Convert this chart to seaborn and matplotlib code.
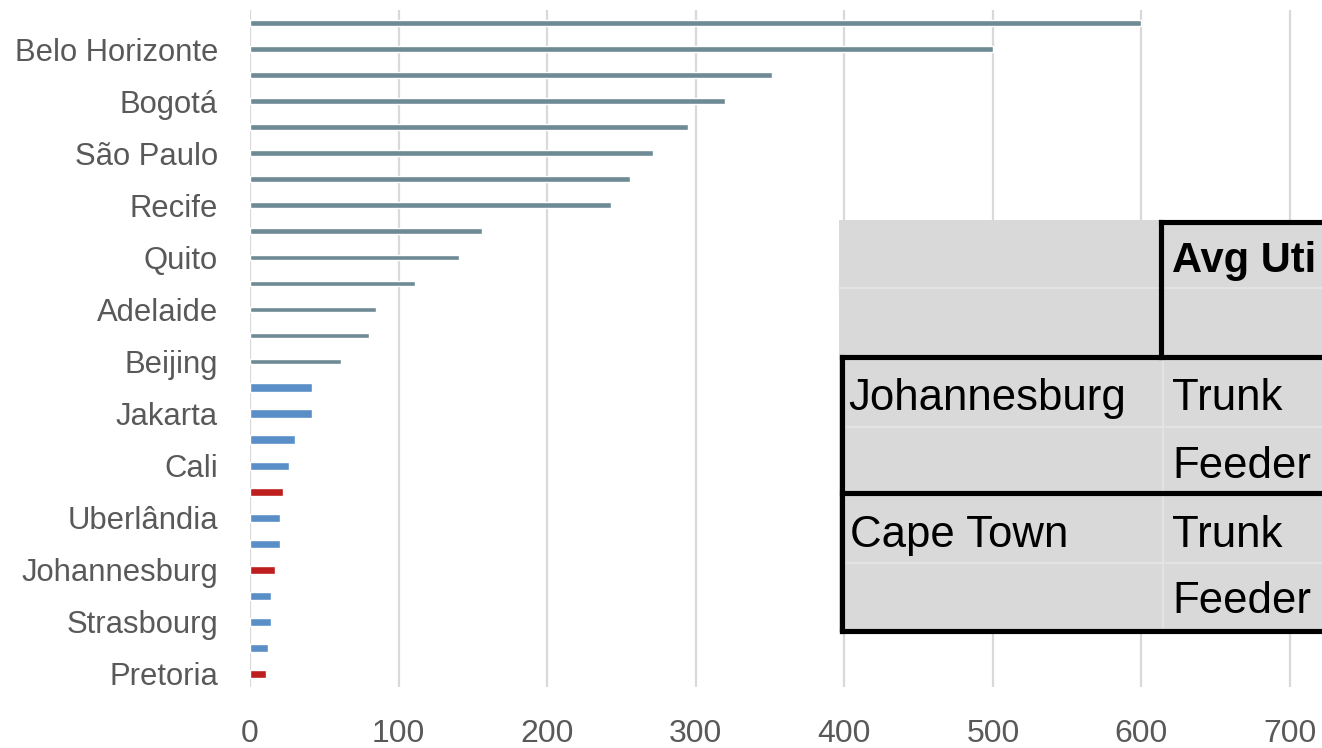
import numpy as np
import pandas as pd
import matplotlib
matplotlib.use("Agg")
import matplotlib.pyplot as plt
from matplotlib import font_manager
import seaborn as sns

# ---------------- data (top to bottom) ----------------
slots = [
    "(unlabelled 1)", "Belo Horizonte", "(unlabelled 2)", "Bogotá",
    "(unlabelled 3)", "São Paulo", "(unlabelled 4)", "Recife",
    "(unlabelled 5)", "Quito", "(unlabelled 6)", "Adelaide",
    "(unlabelled 7)", "Beijing", "(unlabelled 8)", "Jakarta",
    "(unlabelled 9)", "Cali", "(unlabelled 10)", "Uberlândia",
    "(unlabelled 11)", "Johannesburg", "(unlabelled 12)", "Strasbourg",
    "(unlabelled 13)", "Pretoria",
]
tick_labels = [
    "", "Belo Horizonte", "", "Bogotá", "", "São Paulo", "", "Recife",
    "", "Quito", "", "Adelaide", "", "Beijing", "", "Jakarta",
    "", "Cali", "", "Uberlândia", "", "Johannesburg", "", "Strasbourg",
    "", "Pretoria",
]
values = [600, 500, 351, 320, 295, 271, 256, 243, 156, 141, 111, 85, 80, 61,
          42, 42, 30, 26, 22, 20, 20, 16.5, 14, 14, 12, 11]
groups = ["thin"] * 14 + ["thick"] * 12
highlight = [False] * 18 + [True, False, False, True, False, False, False, True]
x_ticks = [0, 100, 200, 300, 400, 500, 600, 700]

# table overlay text
table_header = "Avg Uti"
table_cities = ["Johannesburg", "Cape Town"]
table_modes = ["Trunk", "Feeder", "Trunk", "Feeder"]

# ---------------- style ----------------
sns.set_style("white")
names = {f.name for f in font_manager.fontManager.ttflist}
narrow = "Liberation Sans Narrow" if "Liberation Sans Narrow" in names else "Liberation Sans"
plt.rcParams["font.family"] = ["Liberation Sans", "DejaVu Sans"]

col_thin = "#6e8b95"
col_blue = "#5a8ec6"
col_red = "#be1e1e"
colors = []
for g, h in zip(groups, highlight):
    if h:
        colors.append(col_red)
    elif g == "thin":
        colors.append(col_thin)
    else:
        colors.append(col_blue)

df = pd.DataFrame({"slot": slots, "value": values, "group": groups, "color": colors})
palette = dict(zip(df["slot"], df["color"]))

W, H = 1322, 748
fig = plt.figure(figsize=(W / 100, H / 100), dpi=100)
ax = fig.add_axes([250 / W, 1 - 687 / H, (W - 250) / W, 677 / H])

thin = df[df["group"] == "thin"]
thick = df[df["group"] == "thick"]
sns.barplot(data=thin, y="slot", x="value", hue="slot", palette=palette,
            order=slots, orient="h", width=0.22, legend=False, ax=ax,
            saturation=1, errorbar=None, zorder=3)
sns.barplot(data=thick, y="slot", x="value", hue="slot", palette=palette,
            order=slots, orient="h", width=0.32, legend=False, ax=ax,
            saturation=1, errorbar=None, zorder=3)

ax.set_xlim(0, 721.5)
ax.set_ylim(len(slots) - 0.5, -0.5)
ax.set_xticks(x_ticks)
ax.set_xticklabels([str(t) for t in x_ticks])
ax.set_yticks(range(len(slots)))
ax.set_yticklabels(tick_labels)
ax.set_xlabel("")
ax.set_ylabel("")
ax.grid(axis="x", color="#d9d9d9", lw=1.6)
ax.grid(axis="y", visible=False)
ax.set_axisbelow(True)
for s in ax.spines.values():
    s.set_visible(False)
ax.tick_params(axis="x", length=0, pad=23, labelsize=23, labelcolor="#595959")
ax.tick_params(axis="y", length=0, pad=23, labelsize=22.3, labelcolor="#595959")
for lab in ax.get_xticklabels():
    lab.set_fontfamily([narrow, "DejaVu Sans"])

# ---------------- table overlay ----------------
ov = fig.add_axes([0, 0, 1, 1], zorder=10)
ov.set_xlim(0, W)
ov.set_ylim(H, 0)
ov.axis("off")
ov.patch.set_alpha(0)
ov.add_patch(plt.Rectangle((839, 220), W - 839, 412, fc="#d9d9d9", ec="none"))
faint = dict(color="#e3e3e3", lw=1.5)
ov.plot([839, W], [288, 288], **faint)
ov.plot([842, W], [427, 427], **faint)
ov.plot([842, W], [563, 563], **faint)
ov.plot([1163, 1163], [357, 631], **faint)
thick_kw = dict(color="black", lw=3.7, solid_capstyle="projecting")
ov.plot([1161, W + 5], [222, 222], **thick_kw)
ov.plot([1161, 1161], [222, 357], **thick_kw)
ov.plot([842, W + 5], [357, 357], **thick_kw)
ov.plot([842, 842], [357, 631], **thick_kw)
ov.plot([842, W + 5], [493, 493], **thick_kw)
ov.plot([842, W + 5], [631, 631], **thick_kw)

tfont = ["Liberation Sans", "DejaVu Sans"]
ov.text(1172, 272, table_header, fontsize=30, fontweight="bold",
        va="baseline", ha="left", family=tfont, color="black")
ov.text(848, 410, table_cities[0], fontsize=31.5, va="baseline", ha="left",
        family=tfont, color="black")
ov.text(850, 547, table_cities[1], fontsize=31.5, va="baseline", ha="left",
        family=tfont, color="black")
for txt, yb in zip(table_modes, [410, 478, 547, 613]):
    ov.text(1172, yb, txt, fontsize=31.5, va="baseline", ha="left",
            family=tfont, color="black")

fig.savefig("out.png", dpi=100)
